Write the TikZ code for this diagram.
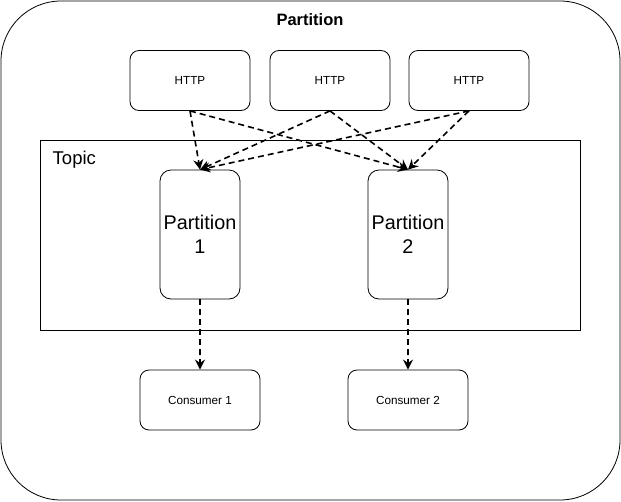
\documentclass[tikz,border=0pt]{standalone}
\usepackage{fontspec}
\setmainfont{Liberation Sans}
\usetikzlibrary{arrows.meta}

\begin{document}
\begin{tikzpicture}[x=1pt, y=-1pt,
    box/.style = {draw, rounded corners=9pt, line width=0.8pt, minimum width=120pt, minimum height=60pt, inner sep=0pt, font=\fontsize{11.7}{14}\selectfont},
    part/.style = {draw, rounded corners=11pt, line width=0.8pt, minimum width=80pt, minimum height=129pt, align=center, font=\fontsize{19.8}{24}\selectfont, inner sep=0pt},
    flow/.style = {-{Stealth[length=10pt, width=10pt]}, line width=1.6pt, dash pattern=on 6pt off 4pt}]
                        \useasboundingbox (0, 0) rectangle (621, 501);
                        \draw[line width=0.8pt, rounded corners=60pt] (1, 1) rectangle (620, 500);
                        \node (title) at (310, 20) {\fontsize{16.5}{19}\selectfont\bfseries Partition};
                        
                        \node (h1) at (190, 80.5) [box] {HTTP};
                        \node (h2) at (330, 80.5) [box] {HTTP};
                        \node (h3) at (469, 80.5) [box] {HTTP};
                        
                        \draw[line width=0.8pt] (40, 140) rectangle (580, 330);
                        \node (topic) at (52.5, 160) [anchor=west, inner sep=0pt] {\fontsize{18.5}{22}\selectfont Topic};
                        
                        \node (p1) at (200, 234.5) [part] {Partition\\1};
                        \node (p2) at (408, 234.5) [part] {Partition\\2};
                        
                        \node (c1) at (200, 400) [box] {Consumer 1};
                        \node (c2) at (408, 400) [box] {Consumer 2};
                        
                        \draw[flow] (h1.south) -- (p1.north);
                        \draw[flow] (h1.south) -- (p2.north);
                        \draw[flow] (h2.south) -- (p1.north);
                        \draw[flow] (h2.south) -- (p2.north);
                        \draw[flow] (h3.south) -- (p1.north);
                        \draw[flow] (h3.south) -- (p2.north);
                        
                        \draw[flow] (p1.south) -- (c1.north);
                        \draw[flow] (p2.south) -- (c2.north);
                    \end{tikzpicture}
\end{document}
